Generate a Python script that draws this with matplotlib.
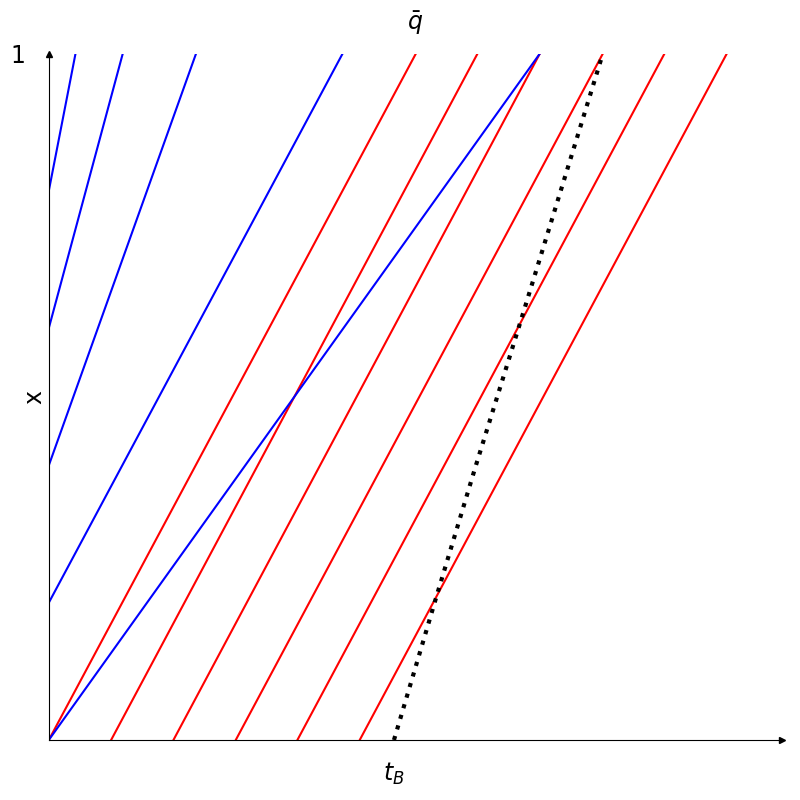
import matplotlib
matplotlib.use("Agg")
import matplotlib.pyplot as plt

# Red characteristics: start time at x=0 and end time at x=1
red_t0 = [0.0, 0.091, 0.182, 0.273, 0.363, 0.454]
red_t1 = [0.536, 0.626, 0.717, 0.809, 0.899, 0.990]

# Blue characteristics: start at t=0, position x0, end time at x=1
blue_x0 = [0.0, 0.2, 0.4, 0.6, 0.8]
blue_t1 = [0.717, 0.429, 0.215, 0.108, 0.039]

# Dotted curve (t, x)
dot_t = [0.504, 0.566, 0.623, 0.684, 0.809]
dot_x = [0.0, 0.209, 0.398, 0.594, 1.0]

t_B = 0.504

fig = plt.figure(figsize=(8, 8), dpi=100)
ax = fig.add_axes([0.061, 0.075, 0.916, 0.858])

for a, b in zip(red_t0, red_t1):
    ax.plot([a, b], [0, 1], color="red", lw=1.5)
for x0, b in zip(blue_x0, blue_t1):
    ax.plot([0, b], [x0, 1], color="blue", lw=1.5)
ax.plot(dot_t, dot_x, color="black", lw=3, linestyle=":")

ax.set_xlim(0, 1.070)
ax.set_ylim(0, 1)

for s in ["top", "right"]:
    ax.spines[s].set_visible(False)
ax.plot(1, 0, ">k", markersize=5, transform=ax.transAxes, clip_on=False)
ax.plot(0, 1, "^k", markersize=5, transform=ax.transAxes, clip_on=False)

ax.set_xticks([t_B])
ax.set_xticklabels(["$t_B$"], fontsize=17)
ax.set_yticks([1])
ax.set_yticklabels(["1"], fontsize=17)
ax.tick_params(axis="x", length=0, pad=15)
ax.tick_params(axis="y", length=0, pad=17)
ax.set_ylabel("x", fontsize=17)
ax.yaxis.set_label_coords(-0.004, 0.5)
ax.set_title(r"$\bar{q}$", fontsize=17, pad=17)

fig.savefig("out.png", dpi=100)
